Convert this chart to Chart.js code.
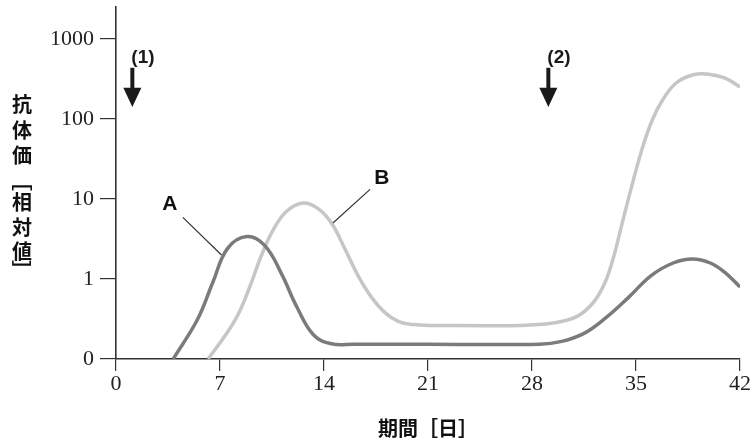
<!DOCTYPE html>
<html>
<head>
<meta charset="utf-8">
<script src="https://cdn.jsdelivr.net/npm/chart.js@4.4.1/dist/chart.umd.min.js"></script>
<style>
  html, body { margin: 0; padding: 0; background: #fff; }
  #wrap { width: 752px; height: 442px; }
</style>
</head>
<body>
<div id="wrap"><canvas id="chart" width="752" height="442"></canvas></div>
<script>
// 抗体価の推移 (縦軸は 0,1,10,100,1000 を等間隔の段階で表示)
const yTickLabels = ['0', '1', '10', '100', '1000'];
const dayTicks = [0, 7, 14, 21, 28, 35, 42];

// 曲線A (日, 段階)
const daysA   = [3.85, 5.5, 6.5, 7.5, 8.8, 10.0, 11.1, 12.2, 13.3, 14.5, 16, 21, 28.5, 30, 31.5, 33, 34.5, 36, 37.5, 38.8, 40, 41, 42];
const levelsA = [0, 0.5, 0.95, 1.38, 1.53, 1.42, 1.08, 0.64, 0.3, 0.19, 0.185, 0.185, 0.185, 0.22, 0.32, 0.52, 0.77, 1.04, 1.2, 1.25, 1.2, 1.08, 0.9];

// 曲線B
const daysB   = [6.2, 7.3, 8.2, 9.0, 9.8, 10.6, 11.5, 12.6, 13.6, 14.5, 15.4, 16.3, 17.2, 18.1, 19.0, 20, 21.4, 27.2, 29.4, 31.0, 32.1, 32.9, 33.5, 34.1, 34.8, 35.4, 36.1, 36.8, 37.7, 38.8, 39.9, 41.0, 42];
const levelsB = [0, 0.28, 0.55, 0.9, 1.3, 1.62, 1.85, 1.95, 1.88, 1.7, 1.38, 1.04, 0.77, 0.58, 0.47, 0.43, 0.42, 0.42, 0.45, 0.53, 0.7, 0.95, 1.28, 1.72, 2.22, 2.62, 2.99, 3.24, 3.45, 3.55, 3.56, 3.51, 3.4];

// 矢印 (1)(2)
const arrowDays = [1.1, 29.1];
const arrowLabels = ['(1)', '(2)'];

const toPoints = (xs, ys) => xs.map((x, i) => ({ x: x, y: ys[i] }));

const serif = '"Liberation Serif", "DejaVu Serif", serif';
const cjk = '"Noto Sans CJK JP", "Noto Sans CJK SC", sans-serif';

// 注記・矢印・軸タイトル
const annotations = {
  id: 'annotations',
  afterDraw(chart) {
    const { ctx, scales: { x, y } } = chart;
    ctx.save();

    // 矢印
    ctx.fillStyle = '#1a1a1a';
    ctx.strokeStyle = '#1a1a1a';
    arrowDays.forEach((d, i) => {
      const px = x.getPixelForValue(d);
      const top = y.getPixelForValue(3.64);
      const headTop = y.getPixelForValue(3.39);
      const tip = y.getPixelForValue(3.15);
      ctx.lineWidth = 4;
      ctx.beginPath();
      ctx.moveTo(px, top);
      ctx.lineTo(px, headTop + 1);
      ctx.stroke();
      ctx.beginPath();
      ctx.moveTo(px - 9, headTop);
      ctx.lineTo(px + 9, headTop);
      ctx.lineTo(px, tip);
      ctx.closePath();
      ctx.fill();

      ctx.font = 'bold 19px "Liberation Sans Narrow", "Liberation Sans", sans-serif';
      ctx.textAlign = 'left';
      ctx.textBaseline = 'middle';
      ctx.fillText(arrowLabels[i], px - 1, y.getPixelForValue(3.77));
    });

    // A, B のラベルと引き出し線
    ctx.strokeStyle = '#333';
    ctx.lineWidth = 1.2;
    ctx.beginPath();
    ctx.moveTo(x.getPixelForValue(4.5), y.getPixelForValue(1.77));
    ctx.lineTo(x.getPixelForValue(7.1), y.getPixelForValue(1.3));
    ctx.moveTo(x.getPixelForValue(17.1), y.getPixelForValue(2.12));
    ctx.lineTo(x.getPixelForValue(14.6), y.getPixelForValue(1.7));
    ctx.stroke();

    ctx.fillStyle = '#111';
    ctx.font = 'bold 21px "Liberation Sans", Arial, sans-serif';
    ctx.textAlign = 'center';
    ctx.textBaseline = 'middle';
    ctx.fillText('A', x.getPixelForValue(3.63), y.getPixelForValue(1.93));
    ctx.fillText('B', x.getPixelForValue(17.9), y.getPixelForValue(2.26));

    // x軸タイトル
    ctx.font = 'bold 20px ' + cjk;
    ctx.fillText('期間［日］', (x.left + x.right) / 2, 428);

    // y軸タイトル (縦書き)
    const chars = ['抗', '体', '価', '［', '相', '対', '値', '］'];
    const ys = [104, 130, 155, 181, 202, 227, 251, 270];
    chars.forEach((c, i) => {
      if (c === '［' || c === '］') {
        ctx.save();
        ctx.translate(22, ys[i]);
        ctx.rotate(Math.PI / 2);
        ctx.fillText(c, 0, 0);
        ctx.restore();
      } else {
        ctx.fillText(c, 22, ys[i]);
      }
    });

    ctx.restore();
  }
};

new Chart(document.getElementById('chart'), {
  type: 'line',
  data: {
    datasets: [{
      label: 'A',
      data: toPoints(daysA, levelsA),
      borderColor: '#7b7b7b',
      borderWidth: 3.5,
      pointRadius: 0,
      tension: 0.4,
      fill: false
    }, {
      label: 'B',
      data: toPoints(daysB, levelsB),
      borderColor: '#c6c6c6',
      borderWidth: 3.5,
      pointRadius: 0,
      tension: 0.4,
      fill: false
    }]
  },
  options: {
    responsive: false,
    animation: false,
    layout: { autoPadding: false, padding: { left: 0, right: 12, top: 7, bottom: 0 } },
    plugins: {
      legend: { display: false },
      tooltip: { enabled: false }
    },
    scales: {
      x: {
        type: 'linear',
        min: 0,
        max: 42,
        afterBuildTicks: (axis) => { axis.ticks = dayTicks.map(v => ({ value: v })); },
        afterFit: (scale) => {
          scale.height = 83;
          scale.paddingLeft = 0;
          scale.paddingRight = 0;
        },
        ticks: {
          padding: 0,
          color: '#222',
          font: { family: serif, size: 22 },
          maxRotation: 0
        },
        grid: { drawOnChartArea: false, tickLength: 12, color: '#333', lineWidth: 1.2 },
        border: { display: true, color: '#333', width: 1.6 }
      },
      y: {
        min: 0,
        max: 4.4,
        afterBuildTicks: (axis) => { axis.ticks = yTickLabels.map((l, i) => ({ value: i })); },
        afterFit: (scale) => {
          scale.width = 116;
          scale.paddingTop = 0;
          scale.paddingBottom = 0;
        },
        ticks: {
          padding: 6,
          color: '#222',
          font: { family: serif, size: 22 },
          callback: (v) => yTickLabels[v]
        },
        grid: { drawOnChartArea: false, tickLength: 16, color: '#333', lineWidth: 1.2 },
        border: { display: true, color: '#333', width: 1.6 }
      }
    }
  },
  plugins: [annotations]
});
</script>
</body>
</html>
